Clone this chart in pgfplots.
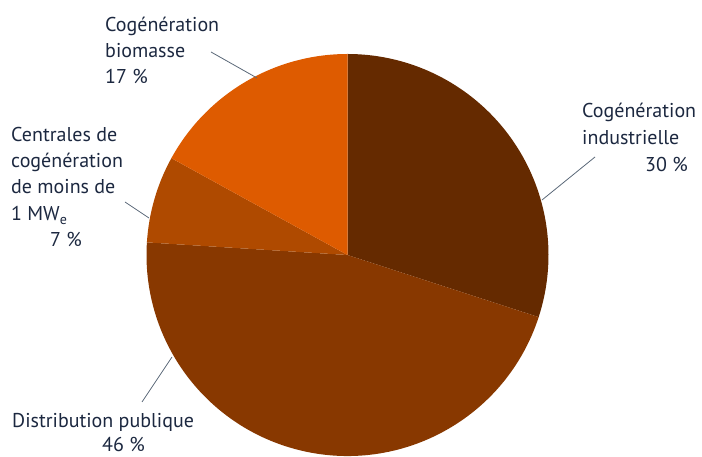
\documentclass[border=0pt]{standalone}
\usepackage{pgfplots}
\pgfplotsset{compat=1.18}
\usepackage{fontspec}
\setmainfont{PT Sans}
\definecolor{cA}{HTML}{652A00}
\definecolor{cB}{HTML}{883800}
\definecolor{cC}{HTML}{AF4A00}
\definecolor{cD}{HTML}{DE5B00}
\definecolor{txt}{HTML}{1C2840}
\definecolor{lead}{HTML}{5A6878}
\begin{document}
\begin{tikzpicture}
\begin{axis}[x=1pt,y=1pt,xmin=0,xmax=702,ymin=0,ymax=457,hide axis,clip=false,
  scale only axis]
% values (percent): 30, 46, 7, 17 ; clockwise from 90 deg
\def\cx{347.5}\def\cy{202}
\fill[cA,overlay] (axis cs:\cx,\cy) -- ++(90:201pt) arc[start angle=90, end angle={90-3.6*30}, radius=201pt] -- cycle;
\fill[cB,overlay] (axis cs:\cx,\cy) -- ++({90-3.6*30}:201pt) arc[start angle={90-3.6*30}, end angle={90-3.6*(30+46)}, radius=201pt] -- cycle;
\fill[cC,overlay] (axis cs:\cx,\cy) -- ++({90-3.6*76}:201pt) arc[start angle={90-3.6*76}, end angle={90-3.6*(76+7)}, radius=201pt] -- cycle;
\fill[cD,overlay] (axis cs:\cx,\cy) -- ++({90-3.6*83}:201pt) arc[start angle={90-3.6*83}, end angle={90-3.6*(83+17)}, radius=201pt] -- cycle;
% leader lines
\draw[lead,line width=0.8pt] (axis cs:211,405) -- (axis cs:257,379);
\draw[lead,line width=0.8pt] (axis cs:125,255) -- (axis cs:149,239);
\draw[lead,line width=0.8pt] (axis cs:595,300) -- (axis cs:542,257);
\draw[lead,line width=0.8pt] (axis cs:142,55) -- (axis cs:172,100);
% labels
\tikzset{lab/.style={anchor=base west,inner sep=0pt,text=txt,font=\fontsize{20}{24}\selectfont}}
\node[lab] at (axis cs:105,425) {Cogénération};
\node[lab] at (axis cs:105,399) {biomasse};
\node[lab] at (axis cs:105,373) {17 \%};
\node[lab] at (axis cs:11,315) {Centrales de};
\node[lab] at (axis cs:11,289) {cogénération};
\node[lab] at (axis cs:11,263) {de moins de};
\node[lab] at (axis cs:11,236) {1 MW\textsubscript{e}};
\node[lab] at (axis cs:50,210) {7 \%};
\node[lab] at (axis cs:582,339) {Cogénération};
\node[lab] at (axis cs:582,312) {industrielle};
\node[lab] at (axis cs:645,285) {30 \%};
\node[lab] at (axis cs:12,29) {Distribution publique};
\node[lab] at (axis cs:102,5) {46 \%};
\end{axis}
\pgfresetboundingbox
\path (0,0) rectangle (702pt,457pt);
\end{tikzpicture}
\end{document}
